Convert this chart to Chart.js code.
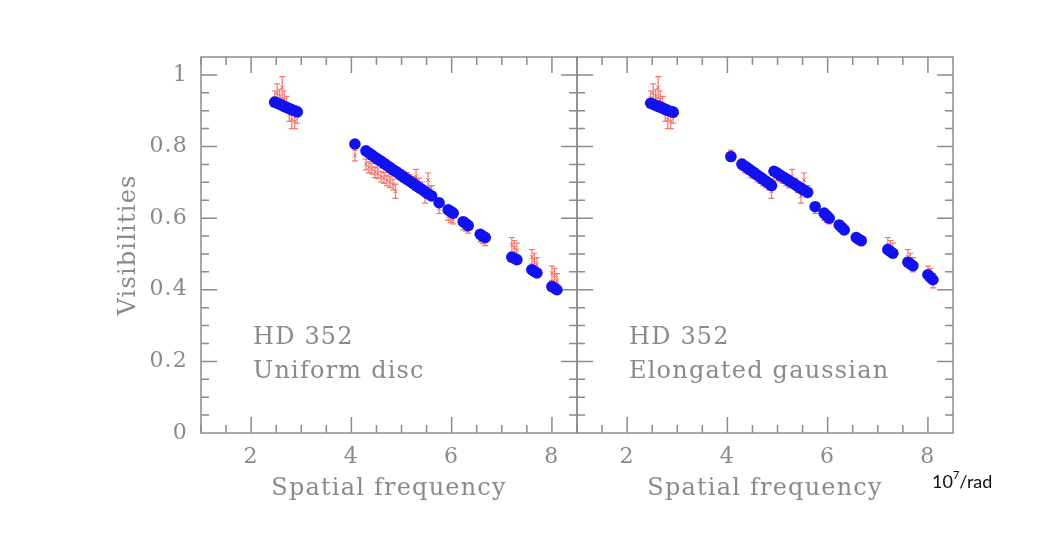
<!DOCTYPE html>
<html>
<head>
<meta charset="utf-8">
<script src="https://cdn.jsdelivr.net/npm/chart.js@4.4.1/dist/chart.umd.min.js"></script>
<style>
  body { margin: 0; background: #ffffff; width: 1043px; height: 543px; overflow: hidden; position: relative; }
  .panel { position: absolute; top: 0; }
  #leftPanel { left: 0; }
  #rightPanel { left: 576px; }
  #unit { position: absolute; left: 932px; top: 470px; font-family: Lato, "Open Sans", sans-serif; font-size: 18px; color: #111; }
  #unit sup { font-size: 11px; position: relative; top: -2px; }
</style>
</head>
<body>
<div class="panel" id="leftPanel"><canvas id="udChart" width="578" height="543"></canvas></div>
<div class="panel" id="rightPanel"><canvas id="gaussChart" width="467" height="543"></canvas></div>
<div id="unit">10<sup>7</sup>/rad</div>
<script>
// spatial frequency of each baseline (10^7 /rad)
var freq = [
    2.47, 2.52, 2.57, 2.62, 2.66, 2.71, 2.76, 2.81, 2.87, 2.92,
    4.07,
    4.29, 4.35, 4.41, 4.47, 4.53, 4.59, 4.65, 4.71, 4.77, 4.83, 4.88,
    4.93, 4.99, 5.05, 5.11, 5.17, 5.23, 5.29, 5.35, 5.41, 5.47, 5.53, 5.60,
    5.75,
    5.93, 5.98, 6.03,
    6.23, 6.28, 6.33,
    6.57, 6.62, 6.67,
    7.20, 7.25, 7.30,
    7.60, 7.65, 7.70,
    8.00, 8.05, 8.10
];
// measured visibilities and their errors
var visObs = [
    0.935, 0.950, 0.940, 0.965, 0.930, 0.920, 0.890, 0.875, 0.870, 0.885,
    0.775,
    0.750, 0.742, 0.738, 0.728, 0.725, 0.716, 0.712, 0.705, 0.700, 0.694, 0.675,
    0.725, 0.720, 0.716, 0.712, 0.706, 0.700, 0.716, 0.696, 0.686, 0.662, 0.706, 0.676,
    0.628,
    0.606, 0.600, 0.596,
    0.580, 0.576, 0.570,
    0.546, 0.541, 0.535,
    0.526, 0.517, 0.510,
    0.492, 0.482, 0.470,
    0.446, 0.440, 0.425
];
var visErr = [
    0.020, 0.025, 0.020, 0.030, 0.025, 0.020, 0.020, 0.025, 0.020, 0.020,
    0.015,
    0.015, 0.015, 0.015, 0.015, 0.015, 0.015, 0.015, 0.015, 0.015, 0.015, 0.020,
    0.015, 0.015, 0.015, 0.015, 0.015, 0.015, 0.020, 0.015, 0.015, 0.020, 0.020, 0.015,
    0.015,
    0.012, 0.012, 0.012,
    0.012, 0.012, 0.012,
    0.012, 0.012, 0.012,
    0.020, 0.020, 0.020,
    0.020, 0.020, 0.020,
    0.020, 0.020, 0.020
];
// uniform disc fit
var visUniform = [
    0.924, 0.921, 0.918, 0.915, 0.912, 0.909, 0.906, 0.903, 0.900, 0.897,
    0.807,
    0.788, 0.782, 0.776, 0.770, 0.764, 0.759, 0.753, 0.747, 0.741, 0.735, 0.731,
    0.726, 0.720, 0.714, 0.708, 0.703, 0.697, 0.691, 0.685, 0.680, 0.674, 0.668, 0.662,
    0.643,
    0.623, 0.619, 0.614,
    0.590, 0.585, 0.579,
    0.555, 0.550, 0.546,
    0.491, 0.488, 0.484,
    0.456, 0.451, 0.447,
    0.409, 0.405, 0.400
];
// elongated gaussian fit
var visGauss = [
    0.921, 0.918, 0.915, 0.912, 0.910, 0.907, 0.904, 0.901, 0.898, 0.896,
    0.772,
    0.751, 0.745, 0.739, 0.733, 0.727, 0.721, 0.715, 0.709, 0.703, 0.697, 0.691,
    0.731, 0.726, 0.720, 0.715, 0.710, 0.704, 0.699, 0.694, 0.688, 0.683, 0.678, 0.672,
    0.632,
    0.614, 0.607, 0.600,
    0.581, 0.574, 0.567,
    0.546, 0.541, 0.537,
    0.512, 0.507, 0.502,
    0.477, 0.472, 0.467,
    0.442, 0.435, 0.428
];
var xTicks = [2, 4, 6, 8];
var yTicks = [0, 0.2, 0.4, 0.6, 0.8, 1];

var visPlot = (function() {
    var mod = {};
    var axisColor = '#8c8c8c';
    var textColor = '#8a8a8a';
    var dataColor = 'rgba(240,95,85,0.85)';
    var modelColor = '#1212f0';
    var serif = '"DejaVu Serif", "Liberation Serif", serif';

    // box, inward ticks on all four sides, error bars and the panel caption
    var framePlugin = {
        id: 'frame',
        beforeDraw: function(chart) {
            // the old plot font is set loose, widen the glyph spacing a bit
            chart.ctx.letterSpacing = '1.2px';
        },
        beforeDatasetsDraw: function(chart, args, opts) {
            var ctx = chart.ctx;
            var a = chart.chartArea;
            var xs = chart.scales.x;
            var ys = chart.scales.y;
            var i, v, px, py, len;

            ctx.save();
            ctx.strokeStyle = axisColor;
            ctx.lineWidth = 1.5;
            ctx.strokeRect(a.left, a.top, a.right - a.left, a.bottom - a.top);

            ctx.beginPath();
            for (i = 2; i < 17; i++) {
                v = i * 0.5;
                px = xs.getPixelForValue(v);
                len = (i % 4 === 0) ? 16 : 8;
                ctx.moveTo(px, a.bottom); ctx.lineTo(px, a.bottom - len);
                ctx.moveTo(px, a.top); ctx.lineTo(px, a.top + len);
            }
            for (i = 1; i < 21; i++) {
                v = i * 0.05;
                py = ys.getPixelForValue(v);
                len = (i % 4 === 0) ? 16 : 8;
                ctx.moveTo(a.left, py); ctx.lineTo(a.left + len, py);
                ctx.moveTo(a.right, py); ctx.lineTo(a.right - len, py);
            }
            ctx.stroke();

            ctx.strokeStyle = dataColor;
            ctx.lineWidth = 1.2;
            ctx.beginPath();
            for (i = 0; i < freq.length; i++) {
                px = xs.getPixelForValue(freq[i]);
                var top = ys.getPixelForValue(visObs[i] + visErr[i]);
                var bot = ys.getPixelForValue(visObs[i] - visErr[i]);
                ctx.moveTo(px, top); ctx.lineTo(px, bot);
                ctx.moveTo(px - 3, top); ctx.lineTo(px + 3, top);
                ctx.moveTo(px - 3, bot); ctx.lineTo(px + 3, bot);
            }
            ctx.stroke();

            ctx.fillStyle = textColor;
            ctx.font = '24px ' + serif;
            ctx.textAlign = 'left';
            ctx.textBaseline = 'middle';
            (opts.notes || []).forEach(function(line, k) {
                ctx.fillText(line, a.left + 52, a.bottom - 95 + k * 34);
            });
            ctx.restore();
        }
    };

    mod.draw = function(canvasId, model, notes, showY) {
        var points = function(ys) {
            return freq.map(function(f, i) { return {x: f, y: ys[i]}; });
        };
        var ctx = document.getElementById(canvasId);
        return new Chart(ctx, {
            type: 'scatter',
            data: {
                datasets: [{
                    label: 'model',
                    data: points(model),
                    pointRadius: 5.8,
                    pointBackgroundColor: modelColor,
                    pointBorderColor: modelColor,
                    pointBorderWidth: 0
                }, {
                    label: 'data',
                    data: points(visObs),
                    pointStyle: 'crossRot',
                    pointRadius: 3,
                    pointBorderColor: dataColor,
                    pointBorderWidth: 1
                }]
            },
            plugins: [framePlugin],
            options: {
                responsive: false,
                animation: false,
                devicePixelRatio: 1,
                layout: {
                    autoPadding: false,
                    padding: showY ? {top: 57, right: 1, left: 0, bottom: 0} : {top: 57, right: 90, left: 1, bottom: 0}
                },
                plugins: {
                    legend: { display: false },
                    tooltip: { enabled: false },
                    frame: { notes: notes }
                },
                scales: {
                    x: {
                        type: 'linear',
                        min: 1,
                        max: 8.5,
                        grid: { display: false, drawTicks: false },
                        border: { display: false },
                        afterBuildTicks: function(scale) {
                            scale.ticks = xTicks.map(function(v) { return {value: v}; });
                        },
                        afterFit: function(scale) {
                            scale.height = 110;
                            scale.paddingLeft = 0;
                            scale.paddingRight = 0;
                        },
                        ticks: {
                            autoSkip: false,
                            maxRotation: 0,
                            padding: 13,
                            color: textColor,
                            font: { family: serif, size: 22, lineHeight: 1 }
                        },
                        title: {
                            display: true,
                            text: 'Spatial frequency',
                            color: textColor,
                            font: { family: serif, size: 24, lineHeight: 1 },
                            padding: { top: 0, bottom: 42 }
                        }
                    },
                    y: {
                        type: 'linear',
                        display: showY,
                        min: 0,
                        max: 1.05,
                        grid: { display: false, drawTicks: false },
                        border: { display: false },
                        afterBuildTicks: function(scale) {
                            scale.ticks = yTicks.map(function(v) { return {value: v}; });
                        },
                        afterFit: function(scale) {
                            scale.width = showY ? 201 : 0;
                            scale.paddingTop = 0;
                            scale.paddingBottom = 0;
                        },
                        ticks: {
                            autoSkip: false,
                            padding: 13,
                            color: textColor,
                            font: { family: serif, size: 22, lineHeight: 1 },
                            callback: function(value) { return String(value); }
                        },
                        title: {
                            display: true,
                            text: 'Visibilities',
                            color: textColor,
                            font: { family: serif, size: 24, lineHeight: 1 },
                            padding: { top: 117, bottom: 0 }
                        }
                    }
                }
            }
        });
    };

    return mod;
}());

visPlot.draw('udChart', visUniform, ['HD 352', 'Uniform disc'], true);
visPlot.draw('gaussChart', visGauss, ['HD 352', 'Elongated gaussian'], false);
</script>
</body>
</html>
